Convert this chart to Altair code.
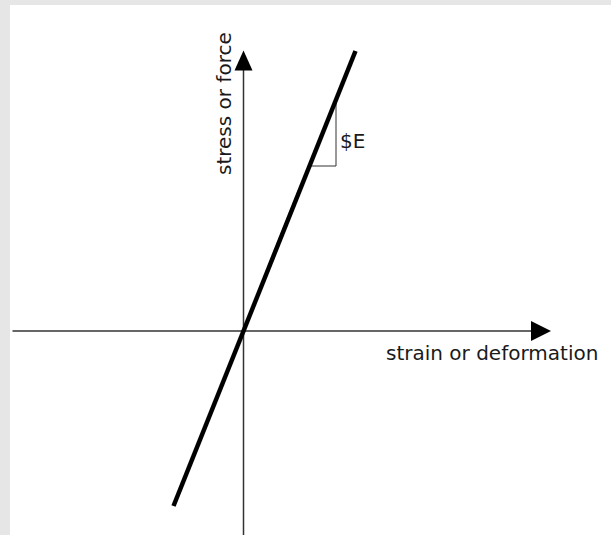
import altair as alt
import pandas as pd

# Linear-elastic stress/strain sketch. Plot units are pixels measured
# from the point where the two axes cross.
line_strain = [-70, 112]
line_stress = [-175, 280]

axis_h_strain = [-231, 288]
axis_h_stress = [0, 0]
axis_v_strain = [0, 0]
axis_v_stress = [-204, 261]

arrow_strain = [297.5, 0]
arrow_stress = [0, 270.5]
arrow_shape = ["M-1,-1L1,0L-1,1Z", "M0,-1L0.9,1L-0.9,1Z"]

slope_strain = [66, 92.5, 92.5]
slope_stress = [165, 165, 231.25]
slope_order = [0, 1, 2]

label_text = ["strain or deformation", "stress or force", "$E"]
label_strain = [142.5, -12.5, 96.5]
label_stress = [-29, 156, 183]
label_angle = [0, 270, 0]

X_SCALE = alt.Scale(domain=[-243.5, 367.5], nice=False, zero=False)
Y_SCALE = alt.Scale(domain=[-204, 331], nice=False, zero=False)
INK = "#333333"
FONT = "DejaVu Sans"

def xy(x="strain", y="stress"):
    return dict(
        x=alt.X(f"{x}:Q", scale=X_SCALE, axis=None),
        y=alt.Y(f"{y}:Q", scale=Y_SCALE, axis=None),
    )

panel = alt.Chart(pd.DataFrame({"k": [0]})).mark_rect(color="white").encode(
    x=alt.value(10), x2=alt.value(611), y=alt.value(5), y2=alt.value(535)
)

h_axis = alt.Chart(pd.DataFrame({"strain": axis_h_strain, "stress": axis_h_stress})).mark_line(
    color=INK, strokeWidth=1.5
).encode(**xy())

v_axis = alt.Chart(pd.DataFrame({"strain": axis_v_strain, "stress": axis_v_stress})).mark_line(
    color=INK, strokeWidth=1.5
).encode(**xy(), order="stress:Q")

arrow_df = pd.DataFrame({"strain": arrow_strain, "stress": arrow_stress, "shape": arrow_shape})
arrows = alt.Chart(arrow_df).mark_point(
    filled=True, color="black", opacity=1, size=400, strokeWidth=0
).encode(**xy(), shape=alt.Shape("shape:N", scale=None, legend=None))

elastic = alt.Chart(pd.DataFrame({"strain": line_strain, "stress": line_stress})).mark_line(
    color="black", strokeWidth=4.5, strokeCap="butt"
).encode(**xy())

slope = alt.Chart(
    pd.DataFrame({"strain": slope_strain, "stress": slope_stress, "o": slope_order})
).mark_line(color=INK, strokeWidth=1).encode(**xy(), order="o:Q")

label_df = pd.DataFrame(
    {"text": label_text, "strain": label_strain, "stress": label_stress, "angle": label_angle}
)
labels_flat = alt.Chart(label_df).transform_filter("datum.angle == 0").mark_text(
    align="left", baseline="alphabetic", font=FONT, fontSize=20, color="#1a1a1a"
).encode(**xy(), text="text:N")
labels_rot = alt.Chart(label_df).transform_filter("datum.angle == 270").mark_text(
    align="left", baseline="alphabetic", font=FONT, fontSize=20, color="#1a1a1a", angle=270
).encode(**xy(), text="text:N")

chart = alt.layer(
    panel, h_axis, v_axis, slope, elastic, arrows, labels_flat, labels_rot
).properties(
    width=611, height=535, padding=0, autosize=alt.AutoSizeParams(type="none"),
    background="#e6e6e6",
).configure_view(stroke=None)

chart.save("out.html", embed_options={"renderer": "svg", "actions": False})
